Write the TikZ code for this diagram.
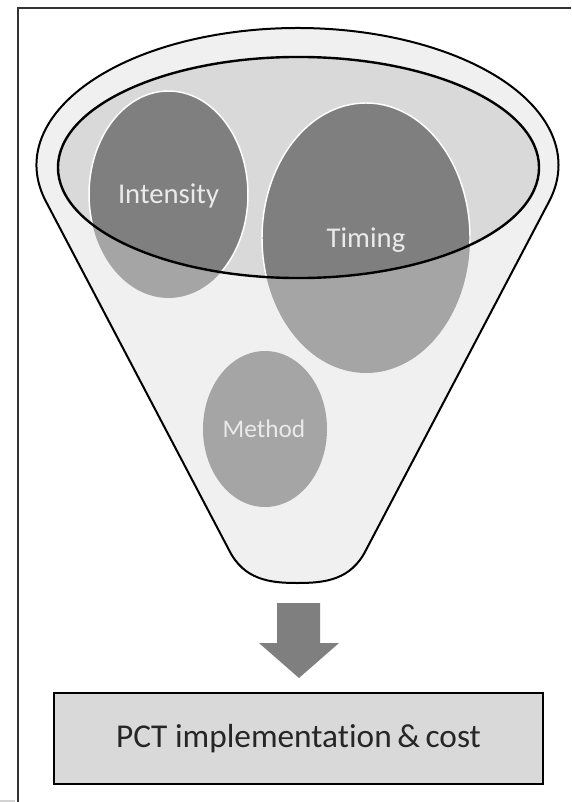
\documentclass[tikz,border=0pt]{standalone}
\usepackage{fontspec}
\setmainfont{Carlito}[Ligatures=NoCommon]
\begin{document}
\begin{tikzpicture}[x=0.75pt,y=0.75pt,
  funnelfill/.style={fill=funnelgray},
  outline/.style={draw=black,line width=1.5pt},
  lightcirc/.style={fill=circlight},
  darkcirc/.style={fill=circdark,draw=white,line width=1.1pt},
  circlabel/.style={text=labellight,inner sep=0pt},
  outbox/.style={draw=black,line width=1.9pt,fill=boxgray,minimum width=366.75pt,minimum height=68.25pt,inner sep=0pt},
  blockarrow/.style={fill=arrowgray}]
\definecolor{funnelgray}{HTML}{F0F0F0}
\definecolor{innergray}{HTML}{D9D9D9}
\definecolor{circdark}{HTML}{7F7F7F}
\definecolor{circlight}{HTML}{A5A5A5}
\definecolor{labellight}{HTML}{EAEAEA}
\definecolor{boxgray}{HTML}{D9D9D9}
\definecolor{arrowgray}{HTML}{7F7F7F}
\definecolor{framegray}{HTML}{333333}
\useasboundingbox (0,0) rectangle (571,-802);
\fill[white] (0,0) rectangle (571,-802);
% frame
\draw[framegray,line width=1.3pt] (18,-802) -- (18,-8) -- (571,-8);
\draw[gray!35,line width=0.8pt] (0,-801) -- (15,-801);
% funnel body
\path[funnelfill] (45.9,-201.4) arc[start angle=195.4,end angle=-15.4,x radius=195.75pt,y radius=102.75pt]
  -- (366,-550) .. controls (351,-580) and (325,-583) .. (297.5,-583)
  .. controls (270,-583) and (244,-580) .. (229,-550) -- cycle;
% inner rim fill
\fill[innergray] (298.5,-167.5) ellipse[x radius=180.4pt,y radius=82.9pt];
% circles (lower, lighter parts)
\fill[lightcirc] (168.5,-194.5) ellipse[x radius=59.6pt,y radius=77.6pt];
\fill[lightcirc] (366,-238) ellipse[x radius=78pt,y radius=101.25pt];
\fill[lightcirc] (265,-429) ellipse[x radius=46.5pt,y radius=58.5pt];
% circles inside the rim, darker
\begin{scope}
  \clip (298.5,-167.5) ellipse[x radius=180.4pt,y radius=82.9pt];
  \path[darkcirc] (168.5,-194.5) ellipse[x radius=59.6pt,y radius=77.6pt];
  \path[darkcirc] (366,-238) ellipse[x radius=78pt,y radius=101.25pt];
\end{scope}
% labels
\node[circlabel,font=\fontsize{21.5}{24}\selectfont] (intensity) at (168.5,-196) {Intensity};
\node[circlabel,font=\fontsize{21.5}{24}\selectfont] (timing) at (366,-240) {Timing};
\node[circlabel,font=\fontsize{19}{22}\selectfont] (method) at (264,-429) {Method};
% rim and funnel outlines
\draw[black,line width=1.8pt] (298.5,-167.5) ellipse[x radius=180.4pt,y radius=82.9pt];
\draw[outline,line join=round] (45.9,-201.4) arc[start angle=195.4,end angle=-15.4,x radius=195.75pt,y radius=102.75pt]
  -- (366,-550) .. controls (351,-580) and (325,-583) .. (297.5,-583)
  .. controls (270,-583) and (244,-580) .. (229,-550) -- cycle;
% block arrow
\fill[blockarrow] (277,-603) -- (320,-603) -- (320,-643) -- (339,-643) -- (299,-678) -- (259,-643) -- (277,-643) -- cycle;
% result box
\node[outbox,font=\fontsize{25}{30}\selectfont,text=black!85] (result) at (298.5,-738.5) {\raisebox{-2pt}{PCT implementation\,\&\,cost}};
\end{tikzpicture}
\end{document}
